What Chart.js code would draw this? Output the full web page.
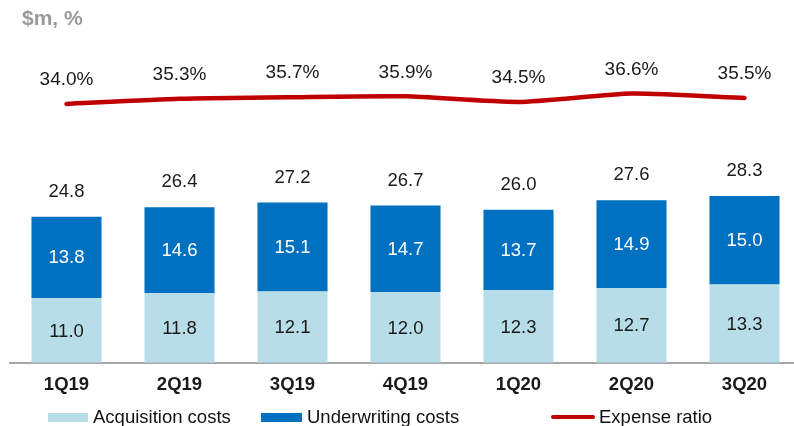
<!DOCTYPE html>
<html>
<head>
<meta charset="utf-8">
<script src="https://cdn.jsdelivr.net/npm/chart.js@4"></script>
<style>
  html, body { margin:0; padding:0; background:#fff; overflow:hidden; width:794px; height:426px; }
  #wrap { position:relative; width:801px; height:426px; }
  #title { position:absolute; left:22px; top:6px; font:bold 21px "Liberation Sans", Arial, sans-serif; color:#9a9a9a; }
  .leg { position:absolute; top:406px; font:18.5px "Liberation Sans", Arial, sans-serif; color:#111; line-height:22px; }
  .sw { position:absolute; }
</style>
</head>
<body>
<div id="wrap">
  <canvas id="c" width="801" height="426"></canvas>
  <div id="title">$m, %</div>
  <div class="sw" style="left:48px; top:413px; width:40px; height:9px; background:#b7dde8;"></div>
  <div class="leg" style="left:93px;">Acquisition costs</div>
  <div class="sw" style="left:261px; top:413px; width:41px; height:9px; background:#0070c0;"></div>
  <div class="leg" style="left:307px;">Underwriting costs</div>
  <div class="sw" style="left:551px; top:415px; width:44px; height:4px; background:#c00000; border-radius:2px;"></div>
  <div class="leg" style="left:599px;">Expense ratio</div>
</div>
<script>
const categories = ["1Q19", "2Q19", "3Q19", "4Q19", "1Q20", "2Q20", "3Q20"];
const acquisitionCosts = [11.0, 11.8, 12.1, 12.0, 12.3, 12.7, 13.3];
const underwritingCosts = [13.8, 14.6, 15.1, 14.7, 13.7, 14.9, 15.0];
const totalCosts = [24.8, 26.4, 27.2, 26.7, 26.0, 27.6, 28.3];
const expenseRatio = [34.0, 35.3, 35.7, 35.9, 34.5, 36.6, 35.5];

const FONT = '"Liberation Sans", Arial, sans-serif';

const labelPlugin = {
  id: 'valueLabels',
  afterDatasetsDraw(chart) {
    const ctx = chart.ctx;
    ctx.save();
    ctx.textAlign = 'center';
    ctx.textBaseline = 'middle';
    ctx.font = '18.5px ' + FONT;
    [0, 1].forEach(di => {
      const meta = chart.getDatasetMeta(di);
      meta.data.forEach((el, i) => {
        const v = chart.data.datasets[di].data[i];
        ctx.fillStyle = di === 0 ? '#1a1a1a' : '#ffffff';
        ctx.fillText(v.toFixed(1), el.x, (el.y + el.base) / 2 + 1);
      });
    });
    const top = chart.getDatasetMeta(1);
    top.data.forEach((el, i) => {
      ctx.fillStyle = '#1a1a1a';
      ctx.fillText(totalCosts[i].toFixed(1), el.x, el.y - 25);
    });
    ctx.font = '19px ' + FONT;
    const lm = chart.getDatasetMeta(2);
    lm.data.forEach((el, i) => {
      ctx.fillStyle = '#1a1a1a';
      ctx.fillText(expenseRatio[i].toFixed(1) + '%', el.x, el.y - 24);
    });
    ctx.restore();
  }
};

new Chart(document.getElementById('c'), {
  data: {
    labels: categories,
    datasets: [
      { type: 'bar', label: 'Acquisition costs', data: acquisitionCosts, backgroundColor: '#b7dde8', yAxisID: 'y', stack: 's', barPercentage: 0.62, categoryPercentage: 1.0, order: 2 },
      { type: 'bar', label: 'Underwriting costs', data: underwritingCosts, backgroundColor: '#0070c0', yAxisID: 'y', stack: 's', barPercentage: 0.62, categoryPercentage: 1.0, order: 2 },
      { type: 'line', label: 'Expense ratio', data: expenseRatio, borderColor: '#c00000', borderWidth: 4.5, pointRadius: 0, tension: 0.2, yAxisID: 'y2', order: 1, borderCapStyle: 'round', borderJoinStyle: 'round', clip: false }
    ]
  },
  options: {
    responsive: false,
    animation: false,
    layout: { padding: { left: 10, right: 0, top: 0, bottom: 19 } },
    plugins: { legend: { display: false }, tooltip: { enabled: false }, title: { display: false } },
    scales: {
      x: {
        offset: true,
        grid: { display: false, drawTicks: false },
        border: { display: true, color: '#a6a6a6', width: 2 },
        ticks: { color: '#1a1a1a', font: { family: FONT, size: 18.5, weight: 'bold' }, padding: 11, maxRotation: 0, autoSkip: false }
      },
      y: { stacked: true, display: false, min: 0, max: 61.6 },
      y2: { display: false, min: -30.75, max: 60.0 }
    }
  },
  plugins: [labelPlugin]
});
</script>
</body>
</html>
